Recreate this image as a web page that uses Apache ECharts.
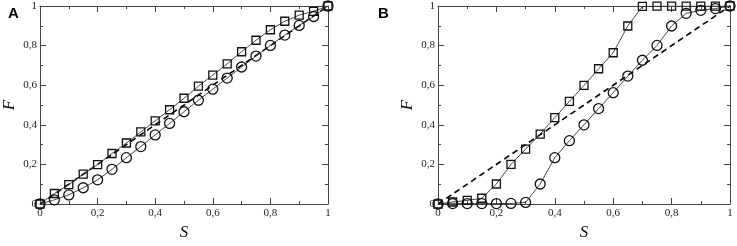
<!DOCTYPE html>
<html><head><meta charset="utf-8">
<script src="https://cdn.jsdelivr.net/npm/echarts@6/dist/echarts.min.js"></script>
<style>html,body{margin:0;padding:0;background:#fff}#c{width:737px;height:246px}</style>
</head><body><div id="c"></div>
<script>
const S = [0,0.05,0.1,0.15,0.2,0.25,0.3,0.35,0.4,0.45,0.5,0.55,0.6,0.65,0.7,0.75,0.8,0.85,0.9,0.95,1];
const aSquares = [0,0.053,0.098,0.151,0.199,0.255,0.308,0.364,0.42,0.476,0.534,0.595,0.651,0.708,0.769,0.827,0.88,0.923,0.954,0.973,1];
const aCircles = [0,0.021,0.046,0.082,0.122,0.175,0.234,0.29,0.349,0.407,0.466,0.524,0.58,0.636,0.692,0.747,0.801,0.853,0.902,0.947,1];
const bSquares = [0,0.01,0.018,0.029,0.101,0.2,0.277,0.353,0.436,0.518,0.599,0.683,0.764,0.899,0.998,0.999,0.999,0.999,0.999,0.999,1];
const bCircles = [0,0.002,0.002,0.002,0.002,0.003,0.008,0.101,0.234,0.32,0.4,0.482,0.562,0.646,0.726,0.801,0.899,0.963,0.978,0.987,1];
const diagX = [0,1];
const diagY = [0,1];
const panelLabels = ['A','B'];

const pair = (xs, ys) => xs.map((x,i)=>[x, ys[i]]);
const fmt = v => (Math.round(v*10)/10 === 0 ? '0' : String(Math.round(v*10)/10).replace('.', ','));
const axisCol = '#444';
function xAxes(gi){
  return [{
    type:'value', gridIndex:gi, min:0, max:1, interval:0.2, position:'bottom',
    name:'S', nameLocation:'middle', nameGap:20,
    nameTextStyle:{fontFamily:'Liberation Serif', fontStyle:'italic', fontSize:17, color:'#111'},
    axisLine:{show:true, onZero:false, lineStyle:{color:axisCol, width:1}},
    axisTick:{show:true, inside:true, length:6, lineStyle:{color:axisCol}},
    minorTick:{show:true, splitNumber:2, length:3, lineStyle:{color:axisCol}},
    axisLabel:{formatter:fmt, fontFamily:'Liberation Serif', fontSize:11, color:'#222', margin:4},
    splitLine:{show:false}
  },{
    type:'value', gridIndex:gi, min:0, max:1, interval:0.2, position:'top',
    axisLine:{show:true, onZero:false, lineStyle:{color:axisCol, width:1}},
    axisTick:{show:true, inside:true, length:6, lineStyle:{color:axisCol}},
    minorTick:{show:true, splitNumber:2, length:3, lineStyle:{color:axisCol}},
    axisLabel:{show:false}, splitLine:{show:false}
  }];
}
function yAxes(gi){
  return [{
    type:'value', gridIndex:gi, min:0, max:1, interval:0.2, position:'left',
    name:'F', nameLocation:'middle', nameGap:22, nameRotate:90,
    nameTextStyle:{fontFamily:'Liberation Serif', fontStyle:'italic', fontSize:17, color:'#111'},
    axisLine:{show:true, onZero:false, lineStyle:{color:axisCol, width:1}},
    axisTick:{show:true, inside:true, length:6, lineStyle:{color:axisCol}},
    minorTick:{show:true, splitNumber:2, length:3, lineStyle:{color:axisCol}},
    axisLabel:{formatter:fmt, fontFamily:'Liberation Serif', fontSize:11, color:'#222', margin:3},
    splitLine:{show:false}
  },{
    type:'value', gridIndex:gi, min:0, max:1, interval:0.2, position:'right',
    axisLine:{show:true, onZero:false, lineStyle:{color:axisCol, width:1}},
    axisTick:{show:true, inside:true, length:6, lineStyle:{color:axisCol}},
    minorTick:{show:true, splitNumber:2, length:3, lineStyle:{color:axisCol}},
    axisLabel:{show:false}, splitLine:{show:false}
  }];
}
function seriesFor(gi, sq, ci){
  const xi = gi*2, yi = gi*2;
  const base = {type:'line', xAxisIndex:xi, yAxisIndex:yi, animation:false, z:3};
  return [
    Object.assign({}, base, {data:pair(diagX, diagY), symbol:'none',
      lineStyle:{color:'#000', width:1.6, type:[6,4]}, z:2}),
    Object.assign({}, base, {data:pair(S, sq), symbol:'rect', symbolSize:8,
      lineStyle:{color:'#333', width:0.9},
      itemStyle:{color:'rgba(0,0,0,0)', borderColor:'#111', borderWidth:1.3}}),
    Object.assign({}, base, {data:pair(S, ci), symbol:'circle', symbolSize:10,
      lineStyle:{color:'#333', width:0.9},
      itemStyle:{color:'rgba(0,0,0,0)', borderColor:'#111', borderWidth:1.3}})
  ];
}
const chart = echarts.init(document.getElementById('c'), null, {renderer:'canvas'});
chart.setOption({
  animation:false,
  title: panelLabels.map((t,i)=>({text:t, left: i===0 ? 3 : 373, top:1,
    textStyle:{fontFamily:'Liberation Sans', fontWeight:'bold', fontSize:15, color:'#000'}})),
  grid:[{left:35, top:6, width:293, height:208},{left:438, top:6, width:292, height:208}],
  xAxis:[...xAxes(0), ...xAxes(1)],
  yAxis:[...yAxes(0), ...yAxes(1)],
  series:[...seriesFor(0, aSquares, aCircles), ...seriesFor(1, bSquares, bCircles)]
});
</script></body></html>
